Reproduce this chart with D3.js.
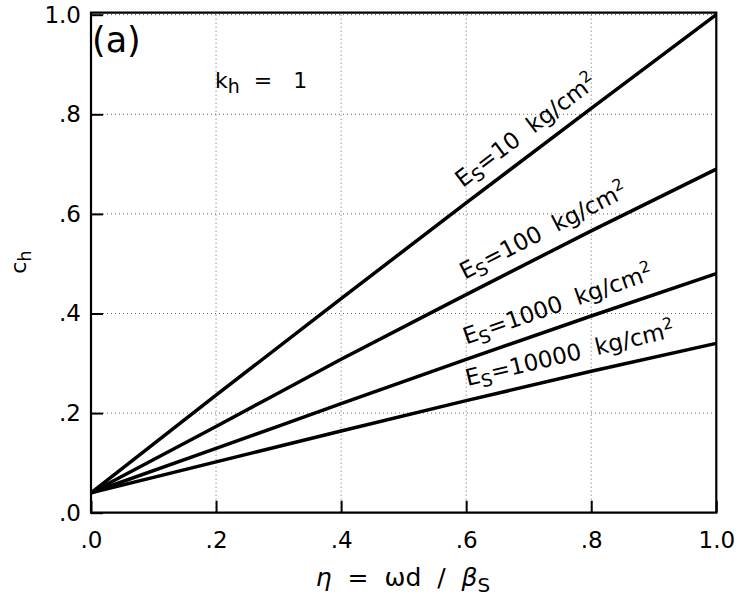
<!DOCTYPE html>
<html>
<head>
<meta charset="utf-8">
<script src="https://cdn.jsdelivr.net/npm/d3@7"></script>
<style>
body { margin: 0; background: #fff; }
text { font-family: "DejaVu Sans", Verdana, sans-serif; fill: #000; }
</style>
</head>
<body>
<svg id="chart" width="740" height="599"></svg>
<script>
// values
var etaPoints = [0, 0.2, 0.4, 0.6, 0.8, 1.0]
var esLabels = ["10", "100", "1000", "10000"]
var ch10 = [0.04, 0.236, 0.43, 0.622, 0.812, 1.0]
var ch100 = [0.04, 0.173, 0.308, 0.438, 0.566, 0.69]
var ch1000 = [0.04, 0.129, 0.219, 0.308, 0.395, 0.48]
var ch10000 = [0.04, 0.102, 0.164, 0.225, 0.284, 0.34]
var labelEta = [0.612, 0.612, 0.612, 0.612]
var xTicks = [0, 0.2, 0.4, 0.6, 0.8, 1.0]
var yTicks = [0, 0.2, 0.4, 0.6, 0.8, 1.0]
var gridTicks = [0.2, 0.4, 0.6, 0.8, 1.0]

var allSeries = [ch10, ch100, ch1000, ch10000]

var margin = {top: 14.7, right: 23.7, bottom: 86.3, left: 91}
var width = 740 - margin.left - margin.right
var height = 599 - margin.top - margin.bottom

var svg = d3.select("#chart")
var g = svg.append("g")
    .attr("transform", "translate(" + margin.left + "," + margin.top + ")")

var x = d3.scaleLinear().domain([0, 1]).range([0, width])
var y = d3.scaleLinear().domain([0, 1]).range([height, 0])

// ".2" style tick labels
function fmt(d) {
    return d === 1 ? "1.0" : d3.format(".1f")(d).replace(/^0/, "")
}

// dotted grid
g.append("g").selectAll("line")
    .data(gridTicks.filter(d => d < 1))
    .join("line")
    .attr("x1", d => x(d)).attr("x2", d => x(d))
    .attr("y1", 0).attr("y2", height)
    .attr("stroke", "#666").attr("stroke-width", 1)
    .attr("stroke-dasharray", "1,3")

g.append("g").selectAll("line")
    .data(gridTicks)
    .join("line")
    .attr("x1", 0).attr("x2", width)
    .attr("y1", d => y(d)).attr("y2", d => y(d))
    .attr("stroke", "#666").attr("stroke-width", 1)
    .attr("stroke-dasharray", "1,3")

// axes, ticks pointing inward
var xAxis = g.append("g")
    .attr("transform", "translate(0," + height + ")")
    .call(d3.axisBottom(x).tickValues(xTicks).tickFormat(fmt).tickSize(-12).tickPadding(19))
var yAxis = g.append("g")
    .call(d3.axisLeft(y).tickValues(yTicks).tickFormat(fmt).tickSize(-12).tickPadding(10))

svg.selectAll(".domain").remove()
svg.selectAll(".tick line").attr("stroke", "#000").attr("stroke-width", 2)
svg.selectAll(".tick text").attr("font-size", 23).attr("fill", "#000")
    .attr("font-family", "Liberation Sans, Arial, sans-serif")

// frame
g.append("path")
    .attr("d", "M0," + (y(1) - 2) + "H" + width + "V" + height + "H0Z")
    .attr("fill", "none").attr("stroke", "#000").attr("stroke-width", 2.2)

// curves
var line = d3.line()
    .x((d, i) => x(etaPoints[i]))
    .y(d => y(d))
    .curve(d3.curveMonotoneX)

g.append("g").selectAll("path")
    .data(allSeries)
    .join("path")
    .attr("d", d => line(d))
    .attr("fill", "none")
    .attr("stroke", "#000")
    .attr("stroke-width", 3.5)

// curve labels, rotated along each line
allSeries.forEach(function(s, i) {
    var f = d3.scaleLinear().domain(etaPoints).range(s)
    var e = labelEta[i]
    var px = x(e), py = y(f(e))
    var dx = x(e + 0.15) - x(e - 0.1)
    var dy = y(f(e + 0.15)) - y(f(e - 0.1))
    var ang = Math.atan2(dy, dx) * 180 / Math.PI
    var t = g.append("text")
        .attr("transform", "translate(" + px + "," + py + ") rotate(" + ang + ")")
        .attr("x", -3).attr("y", -14)
        .attr("font-size", 23)
    t.append("tspan").text("E")
    t.append("tspan").attr("dy", 5).attr("font-size", 18).text("S")
    t.append("tspan").attr("dy", -5).text("=" + esLabels[i] + "\u00a0 kg/cm")
    t.append("tspan").attr("dy", -9).attr("font-size", 16).text("2")
})

// panel tag and parameter
g.append("text")
    .attr("x", 1).attr("y", 37)
    .attr("font-size", 35)
    .text("(a)")

var kt = g.append("text")
    .attr("x", 124).attr("y", 73)
    .attr("font-size", 22)
kt.append("tspan").text("k")
kt.append("tspan").attr("dy", 5).attr("font-size", 19).text("h")
kt.append("tspan").attr("dy", -5).text("\u00a0 = \u00a0 1")

// axis titles
var xt = svg.append("text")
    .attr("x", 403).attr("y", 586)
    .attr("text-anchor", "middle")
    .attr("font-size", 25)
xt.append("tspan").attr("font-style", "italic").text("\u03b7")
xt.append("tspan").text("\u00a0 = \u00a0\u03c9d\u00a0 / \u00a0")
xt.append("tspan").attr("font-style", "italic").text("\u03b2")
xt.append("tspan").attr("dy", 6).attr("font-size", 20).text("S")

var yt = svg.append("text")
    .attr("transform", "translate(26,262) rotate(-90)")
    .attr("text-anchor", "middle")
    .attr("font-size", 22)
yt.append("tspan").text("c")
yt.append("tspan").attr("dy", 5).attr("font-size", 18).text("h")
</script>
</body>
</html>
